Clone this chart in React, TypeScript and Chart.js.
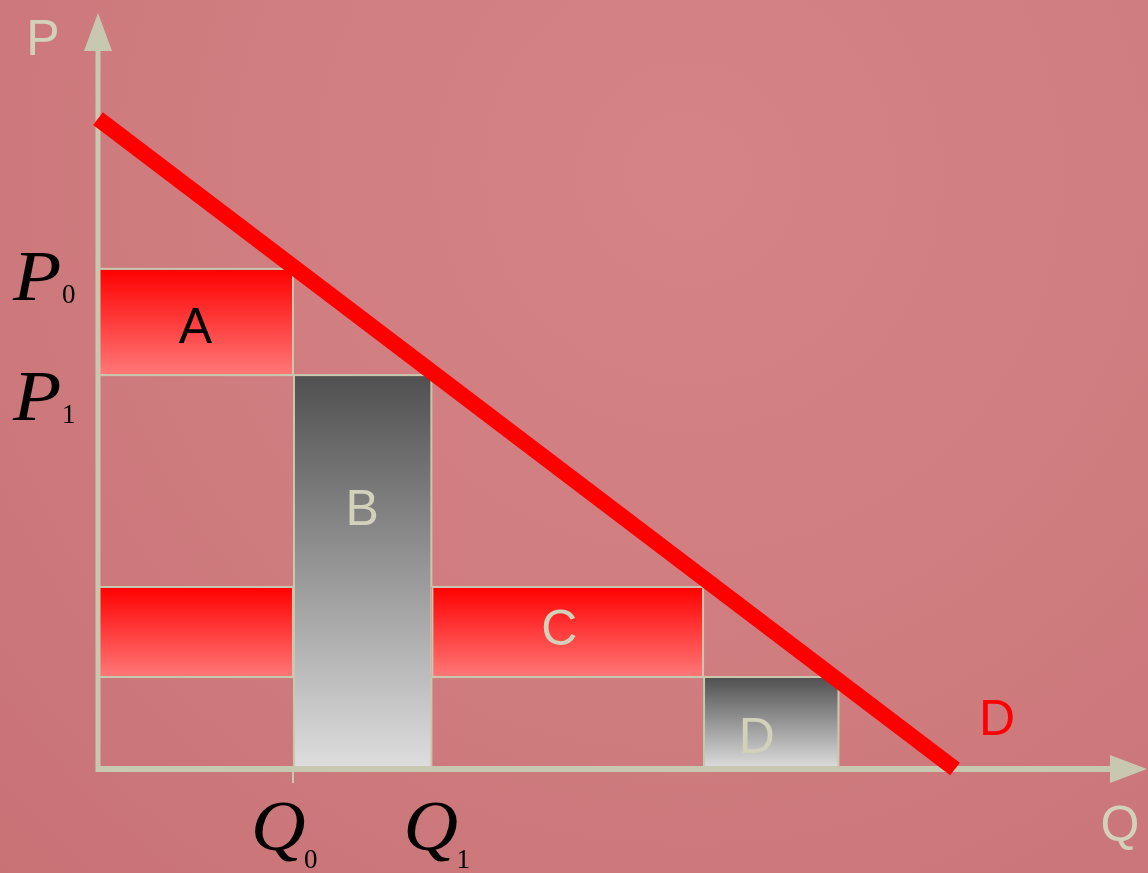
import React, { useEffect, useRef } from 'react';
import { Chart, registerables } from 'chart.js';

Chart.register(...registerables);

// Demand curve D (quantity, price)
const demandQ = [0, 100];
const demandP = [100.4, 0];

// Shaded areas
const areaLabels = ['A', 'B', '', 'C', 'D'];
const areaGroup = ['price', 'quantity', 'price', 'price', 'quantity'];
const areaQFrom = [0, 22.75, 0, 38.9, 70.6];
const areaQTo = [22.75, 38.9, 22.75, 70.6, 86.4];
const areaPFrom = [60.8, 0, 14.2, 14.2, 0];
const areaPTo = [77.2, 60.8, 28.1, 28.1, 14.2];

// Axis marks
const priceTicks = [77.2, 60.8];
const priceTickSubs = ['0', '1'];
const quantityTicks = [22.75, 38.9];
const quantityTickSubs = ['0', '1'];
const axisTitles = ['P', 'Q'];
const curveName = 'D';

const X_MAX = 122.4;
const Y_MAX = 116.7;

const AXIS = '#c8c8b0';
const LIGHT_TEXT = '#d2d2ba';
const SANS = '"Liberation Sans", Arial, sans-serif';
const SERIF = '"Liberation Serif", "Times New Roman", serif';

function drawWide(ctx: any, text: string, px: number, py: number, sx: number) {
  ctx.save();
  ctx.translate(px, py);
  ctx.scale(sx, 1);
  ctx.fillText(text, 0, 0);
  ctx.restore();
}

const diagramPlugin = {
  id: 'diagram',
  beforeDatasetsDraw(chart: any) {
    const { ctx } = chart;
    const x = chart.scales.x;
    const y = chart.scales.y;
    ctx.save();
    // areas
    for (let i = 0; i < areaLabels.length; i++) {
      const l = x.getPixelForValue(areaQFrom[i]);
      const r = x.getPixelForValue(areaQTo[i]);
      const t = y.getPixelForValue(areaPTo[i]);
      const b = y.getPixelForValue(areaPFrom[i]);
      const g = ctx.createLinearGradient(0, t, 0, b);
      if (areaGroup[i] === 'price') {
        g.addColorStop(0, '#ff0000');
        g.addColorStop(1, '#ff7878');
      } else {
        g.addColorStop(0, '#505050');
        g.addColorStop(1, '#dedede');
      }
      ctx.fillStyle = g;
      ctx.fillRect(l, t, r - l, b - t);
      ctx.strokeStyle = AXIS;
      ctx.lineWidth = 2;
      ctx.strokeRect(l + 1, t, r - l - 1, b - t);
    }
    // axes
    const x0 = x.getPixelForValue(0);
    const y0 = y.getPixelForValue(0);
    const xEnd = x.getPixelForValue(X_MAX);
    const yEnd = y.getPixelForValue(Y_MAX);
    ctx.strokeStyle = AXIS;
    ctx.fillStyle = AXIS;
    ctx.lineWidth = 5;
    ctx.beginPath();
    ctx.moveTo(x0, y0 + 3);
    ctx.lineTo(x0, yEnd + 30);
    ctx.stroke();
    ctx.lineWidth = 6;
    ctx.beginPath();
    ctx.moveTo(x0 - 2, y0);
    ctx.lineTo(xEnd - 30, y0);
    ctx.stroke();
    // arrowheads
    ctx.beginPath();
    ctx.moveTo(x0, yEnd);
    ctx.lineTo(x0 - 14, yEnd + 38);
    ctx.lineTo(x0 + 14, yEnd + 38);
    ctx.closePath();
    ctx.fill();
    ctx.beginPath();
    ctx.moveTo(xEnd, y0);
    ctx.lineTo(xEnd - 37, y0 - 14);
    ctx.lineTo(xEnd - 37, y0 + 14);
    ctx.closePath();
    ctx.fill();
    // tick below axis at Q0
    ctx.lineWidth = 2;
    ctx.beginPath();
    const tq = x.getPixelForValue(quantityTicks[0]);
    ctx.moveTo(tq, y0);
    ctx.lineTo(tq, y0 + 14);
    ctx.stroke();
    ctx.restore();
  },
  afterDatasetsDraw(chart: any) {
    const { ctx } = chart;
    const x = chart.scales.x;
    const y = chart.scales.y;
    const x0 = x.getPixelForValue(0);
    const y0 = y.getPixelForValue(0);
    const xEnd = x.getPixelForValue(X_MAX);
    const yEnd = y.getPixelForValue(Y_MAX);
    ctx.save();
    ctx.textBaseline = 'alphabetic';
    ctx.textAlign = 'center';
    // area labels
    const shifts: Record<string, [number, number]> = {
      A: [0, 21],
      B: [0, -47],
      C: [-8, 13],
      D: [-14, 30],
    };
    ctx.font = `50px ${SANS}`;
    for (let i = 0; i < areaLabels.length; i++) {
      const lab = areaLabels[i];
      if (!lab) continue;
      const cx = (x.getPixelForValue(areaQFrom[i]) + x.getPixelForValue(areaQTo[i])) / 2;
      const cy = (y.getPixelForValue(areaPFrom[i]) + y.getPixelForValue(areaPTo[i])) / 2;
      const s = shifts[lab] || [0, 18];
      ctx.fillStyle = lab === 'A' ? '#000000' : LIGHT_TEXT;
      ctx.fillText(lab, cx + s[0], cy + s[1]);
    }
    // axis titles
    ctx.fillStyle = LIGHT_TEXT;
    ctx.fillText(axisTitles[0], x0 - 55, yEnd + 42);
    ctx.fillText(axisTitles[1], xEnd - 27, y0 + 72);
    // curve name
    ctx.fillStyle = '#ff0000';
    ctx.fillText(curveName, x.getPixelForValue(demandQ[1]) + 42, y0 - 34);
    // price tick labels
    ctx.fillStyle = '#000000';
    ctx.textAlign = 'left';
    const priceShift = [31, 45];
    for (let i = 0; i < priceTicks.length; i++) {
      const py = y.getPixelForValue(priceTicks[i]);
      ctx.font = `italic 72px ${SERIF}`;
      drawWide(ctx, 'P', 13, py + priceShift[i], 1.1);
      ctx.font = `27px ${SERIF}`;
      ctx.fillText(priceTickSubs[i], 62, py + priceShift[i] + 3);
    }
    // quantity tick labels
    const qShift = [-42, -28];
    for (let i = 0; i < quantityTicks.length; i++) {
      const px = x.getPixelForValue(quantityTicks[i]);
      ctx.font = `italic 72px ${SERIF}`;
      drawWide(ctx, 'Q', px + qShift[i], y0 + 81, 1.05);
      ctx.font = `27px ${SERIF}`;
      ctx.fillText(quantityTickSubs[i], px + qShift[i] + 53, y0 + 99);
    }
    ctx.restore();
  },
};

export default function App() {
  const canvasRef = useRef<HTMLCanvasElement | null>(null);

  useEffect(() => {
    document.body.style.margin = '0';
    const canvas = canvasRef.current;
    if (!canvas) return;
    const chart = new Chart(canvas, {
      type: 'scatter',
      data: {
        datasets: [
          {
            label: curveName,
            data: demandQ.map((q, i) => ({ x: q, y: demandP[i] })),
            showLine: true,
            borderColor: '#ff0000',
            borderWidth: 16,
            borderCapStyle: 'butt',
            pointRadius: 0,
            pointHoverRadius: 0,
            clip: false,
          } as any,
        ],
      },
      options: {
        animation: false,
        responsive: false,
        maintainAspectRatio: false,
        events: [],
        layout: { padding: { left: 98, right: 1, top: 13, bottom: 104 } },
        plugins: {
          legend: { display: false },
          tooltip: { enabled: false },
          title: { display: false },
        },
        scales: {
          x: { type: 'linear', min: 0, max: X_MAX, display: false },
          y: { type: 'linear', min: 0, max: Y_MAX, display: false },
        },
      },
      plugins: [diagramPlugin],
    });
    return () => chart.destroy();
  }, []);

  return (
    <div
      style={{
        position: 'absolute',
        left: 0,
        top: 0,
        width: 1148,
        height: 873,
        background:
          'radial-gradient(ellipse at 60% 20%, #d48486 0%, #cf7c7f 55%, #c87276 100%)',
      }}
    >
      <canvas ref={canvasRef} width={1148} height={873} style={{ display: 'block' }} />
    </div>
  );
}
